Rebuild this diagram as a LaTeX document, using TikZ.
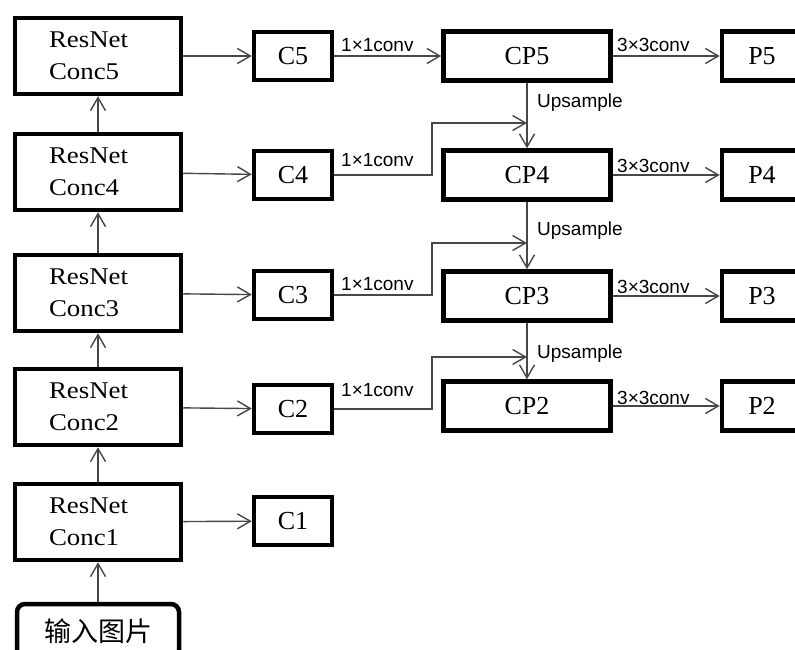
\documentclass[tikz,border=0pt]{standalone}
\usepackage{fontspec}
\setmainfont{Liberation Serif}
\setsansfont{Liberation Sans}
\newfontfamily\wide[FakeStretch=1.12]{Liberation Serif}
\newfontfamily\cjk{Noto Sans CJK SC}
\usetikzlibrary{math,arrows.meta}

\begin{document}
\begin{tikzpicture}[x=1pt,y=-1pt,
	blk/.style={draw,line width=4.5pt,inner sep=0pt},
	res/.style={blk,minimum width=166pt,minimum height=76pt,text width=98pt,align=left,font=\wide\fontsize{24}{32}\selectfont},
	sml/.style={blk,minimum width=78pt,minimum height=48pt,font=\fontsize{26}{26}\selectfont},
	mid/.style={blk,minimum width=167pt,minimum height=49pt,font=\fontsize{26}{26}\selectfont},
	lnk/.style={draw=black!72,line width=1.4pt,-{Straight Barb[length=13pt,width=15pt,line width=1.4pt]}},
	lbl/.style={anchor=base west,inner sep=0pt,font=\sffamily\fontsize{19}{19}\selectfont}]
\useasboundingbox (0,0) rectangle (795,650);
\tikzmath{
	\rx = 98;\cx = 293;\px = 527;\qx = 762;\ex = 432;
	% backbone
	{\node[blk,rounded corners=8pt,minimum width=162pt,minimum height=54pt,font=\cjk\fontsize{27}{27}\selectfont] (in) at (\rx,631) {输入图片};};
	{\node[res] (r1) at (\rx,522) {ResNet\\Conc1};};
	{\node[res] (r2) at (\rx,407) {ResNet\\Conc2};};
	{\node[res] (r3) at (\rx,293) {ResNet\\Conc3};};
	{\node[res] (r4) at (\rx,172) {ResNet\\Conc4};};
	{\node[res] (r5) at (\rx,56) {ResNet\\Conc5};};
	{\draw[lnk] (in) -- (r1);};
	{\draw[lnk] (r1) -- (r2);};
	{\draw[lnk] (r2) -- (r3);};
	{\draw[lnk] (r3) -- (r4);};
	{\draw[lnk] (r4) -- (r5);};
	%
	{\node[sml] (c1) at (\cx,521) {C1};};
	{\node[sml] (c2) at (\cx,409) {C2};};
	{\node[sml] (c3) at (\cx,295) {C3};};
	{\node[sml] (c4) at (\cx,175) {C4};};
	{\node[sml] (c5) at (\cx,56) {C5};};
	{\draw[lnk] (r1) -- (c1);};
	{\draw[lnk] (r2) -- (c2);};
	{\draw[lnk] (r3) -- (c3);};
	{\draw[lnk] (r4) -- (c4);};
	{\draw[lnk] (r5) -- (c5);};
	%
	{\node[mid] (cp2) at (\px,406) {CP2};};
	{\node[mid] (cp3) at (\px,296) {CP3};};
	{\node[mid] (cp4) at (\px,175) {CP4};};
	{\node[mid] (cp5) at (\px,56) {CP5};};
	{\draw[lnk] (c5) -- (cp5);};
	{\draw[lnk] (cp5) -- (cp4);};
	{\draw[lnk] (cp4) -- (cp3);};
	{\draw[lnk] (cp3) -- (cp2);};
	{\coordinate (u4) at (\px,123);};
	{\coordinate (u3) at (\px,243);};
	{\coordinate (u2) at (\px,357);};
	{\draw[lnk] plot[] coordinates {(c4.east) (\ex,175) (\ex,123) (u4)};};
	{\draw[lnk] plot[] coordinates {(c3.east) (\ex,295) (\ex,243) (u3)};};
	{\draw[lnk] plot[] coordinates {(c2.east) (\ex,409) (\ex,357) (u2)};};
	%
	{\node[mid,minimum width=80pt] (p2) at (\qx,406) {P2};};
	{\node[mid,minimum width=80pt] (p3) at (\qx,296) {P3};};
	{\node[mid,minimum width=80pt] (p4) at (\qx,175) {P4};};
	{\node[mid,minimum width=80pt] (p5) at (\qx,56) {P5};};
	{\draw[lnk] (cp2) -- (p2);};
	{\draw[lnk] (cp3) -- (p3);};
	{\draw[lnk] (cp4) -- (p4);};
	{\draw[lnk] (cp5) -- (p5);};
	% labels
	{\node[lbl] (k5) at (341,52) {1×1conv};};
	{\node[lbl] (k4) at (341,167) {1×1conv};};
	{\node[lbl] (k3) at (341,290) {1×1conv};};
	{\node[lbl] (k2) at (341,396) {1×1conv};};
	{\node[lbl] (t5) at (617,52) {3×3conv};};
	{\node[lbl] (t4) at (617,172) {3×3conv};};
	{\node[lbl] (t3) at (617,293) {3×3conv};};
	{\node[lbl] (t2) at (617,404) {3×3conv};};
	{\node[lbl] (s4) at (537,108) {Upsample};};
	{\node[lbl] (s3) at (537,235) {Upsample};};
	{\node[lbl] (s2) at (537,358) {Upsample};};
};
\end{tikzpicture}
\end{document}
